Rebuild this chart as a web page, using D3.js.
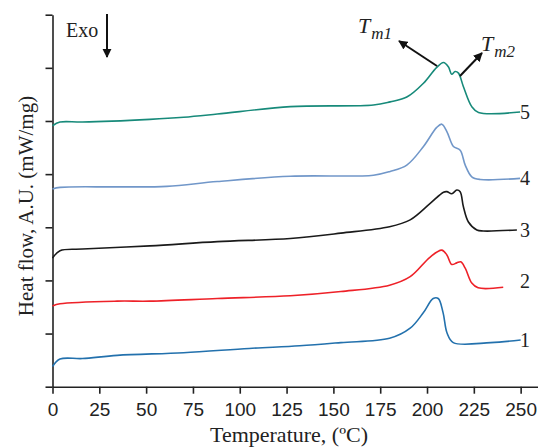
<!DOCTYPE html>
<html lang="en">
<head>
<meta charset="UTF-8">
<title>DSC curves</title>
<script src="https://d3js.org/d3.v7.min.js"></script>
<style>
  body { margin: 0; background: #fff; }
  svg { display: block; font-family: "Liberation Serif", "Times New Roman", serif; }
  .tick text { font-size: 19px; fill: #222; }
  .serie { fill: none; stroke-width: 1.6; }
  .lbl { font-size: 20px; fill: #222; }
</style>
</head>
<body>
<svg width="538" height="448"></svg>
<script>
// temperature (°C) and heat flow (A.U.)
const temp1 = [0, 4, 16, 34.5, 70, 105, 132, 154, 180, 191, 198, 203.3, 206, 208.6, 210.7, 214, 234, 250];
const flow1 = [0.38, 0.52, 0.53, 0.59, 0.64, 0.72, 0.77, 0.83, 0.91, 1.10, 1.39, 1.66, 1.66, 1.39, 1.01, 0.83, 0.83, 0.88];

const temp2 = [0, 4, 34.5, 52, 88, 127, 154, 180, 191, 201.7, 207.9, 210.6, 213.2, 215.9, 218, 220.4, 223.9, 227.3, 240.7];
const flow2 = [1.52, 1.56, 1.61, 1.61, 1.66, 1.71, 1.79, 1.91, 2.07, 2.44, 2.57, 2.48, 2.30, 2.33, 2.35, 2.23, 1.95, 1.86, 1.87];

const temp3 = [0, 4, 16, 52, 88, 127, 154, 180, 191, 201.7, 208.8, 210.6, 213.2, 215.9, 217.7, 219.4, 222.1, 226.6, 230, 248];
const flow3 = [2.42, 2.56, 2.59, 2.65, 2.73, 2.79, 2.89, 3.01, 3.14, 3.45, 3.66, 3.67, 3.63, 3.70, 3.67, 3.39, 3.10, 2.95, 2.93, 2.95];

const temp4 = [0, 4, 34.5, 61, 88, 127, 171.4, 180.3, 189.2, 198.1, 205.2, 207.9, 210.6, 214.1, 217.7, 220.4, 223.9, 228.4, 249.7];
const flow4 = [3.72, 3.75, 3.76, 3.77, 3.86, 3.96, 3.98, 4.05, 4.17, 4.52, 4.88, 4.94, 4.80, 4.52, 4.45, 4.17, 3.95, 3.90, 3.92];

const temp5 = [0, 4, 16, 52, 70, 88, 127, 171.4, 180.3, 189.2, 198.1, 205.2, 208.8, 211.4, 213.2, 215, 216.8, 219.4, 223.9, 227.5, 249.7];
const flow5 = [4.91, 4.98, 4.98, 5.03, 5.07, 5.13, 5.27, 5.30, 5.36, 5.45, 5.71, 6.01, 6.10, 6.02, 5.88, 5.93, 5.90, 5.65, 5.27, 5.16, 5.17];

const serieNames = ["1", "2", "3", "4", "5"];
const serieColors = ["#2371ad", "#ee2128", "#1a1a1a", "#7197c9", "#178a7a"];
const xTicks = [0, 25, 50, 75, 100, 125, 150, 175, 200, 225, 250];
const yTicks = [0, 1, 2, 3, 4, 5, 6, 7];

const temps = [temp1, temp2, temp3, temp4, temp5];
const flows = [flow1, flow2, flow3, flow4, flow5];

const svg = d3.select("svg");
const x = d3.scaleLinear().domain([0, 259]).range([52.5, 537.5]);
const y = d3.scaleLinear().domain([0, 7]).range([386.7, 14.7]);

// ejes
const gx = svg.append("g").attr("transform", `translate(0,${y(0)})`)
  .call(d3.axisBottom(x).tickValues(xTicks).tickSize(7).tickSizeOuter(0).tickPadding(9));
const gy = svg.append("g").attr("transform", `translate(${x(0)},0)`)
  .call(d3.axisLeft(y).tickValues(yTicks).tickSize(7).tickSizeOuter(0).tickFormat(""));
[gx, gy].forEach(g => {
  g.select(".domain").attr("stroke", "#222").attr("stroke-width", 1.6);
  g.selectAll(".tick line").attr("stroke", "#222").attr("stroke-width", 1.6);
});

const line = d3.line().x(d => x(d[0])).y(d => y(d[1])).curve(d3.curveCatmullRom.alpha(0.5));

serieNames.forEach((name, i) => {
  const pts = temps[i].map((t, k) => [t, flows[i][k]]);
  svg.append("path").attr("class", "serie")
    .attr("stroke", serieColors[i])
    .attr("d", line(pts));
  const last = pts[pts.length - 1];
  svg.append("text").attr("class", "lbl")
    .attr("x", 520)
    .attr("y", y(last[1]) + (name === "2" ? 1 : 7))
    .text(name);
});

// títulos
svg.append("text")
  .attr("x", 289).attr("y", 442)
  .attr("text-anchor", "middle")
  .style("font-size", "22px").style("fill", "#222")
  .text("Temperature, (ºC)");

svg.append("text")
  .attr("transform", "translate(33,206) rotate(-90)")
  .attr("text-anchor", "middle")
  .style("font-size", "21px").style("fill", "#222")
  .text("Heat flow, A.U. (mW/mg)");

// flechas
const defs = svg.append("defs");
defs.append("marker").attr("id", "punta")
  .attr("viewBox", "0 0 10 10").attr("refX", 9).attr("refY", 5)
  .attr("markerWidth", 4.6).attr("markerHeight", 4.6).attr("orient", "auto")
  .append("path").attr("d", "M0,0 L10,5 L0,10 Z").attr("fill", "#111");

function flecha(x1, y1, x2, y2) {
  svg.append("line")
    .attr("x1", x1).attr("y1", y1).attr("x2", x2).attr("y2", y2)
    .attr("stroke", "#111").attr("stroke-width", 2)
    .attr("marker-end", "url(#punta)");
}

svg.append("text").attr("x", 66).attr("y", 37)
  .style("font-size", "20px").style("fill", "#222").text("Exo");
flecha(107, 14, 107, 57);

flecha(437, 66, 399, 41);
flecha(460, 76, 482, 53);

function tm(xp, yp, sub) {
  const t = svg.append("text").attr("x", xp).attr("y", yp)
    .style("font-size", "22px").style("font-style", "italic").style("fill", "#222");
  t.append("tspan").text("T");
  t.append("tspan").attr("dx", 1).attr("dy", 6).style("font-size", "17px").text(sub);
}
tm(358, 33, "m1");
tm(481, 51, "m2");
</script>
</body>
</html>
